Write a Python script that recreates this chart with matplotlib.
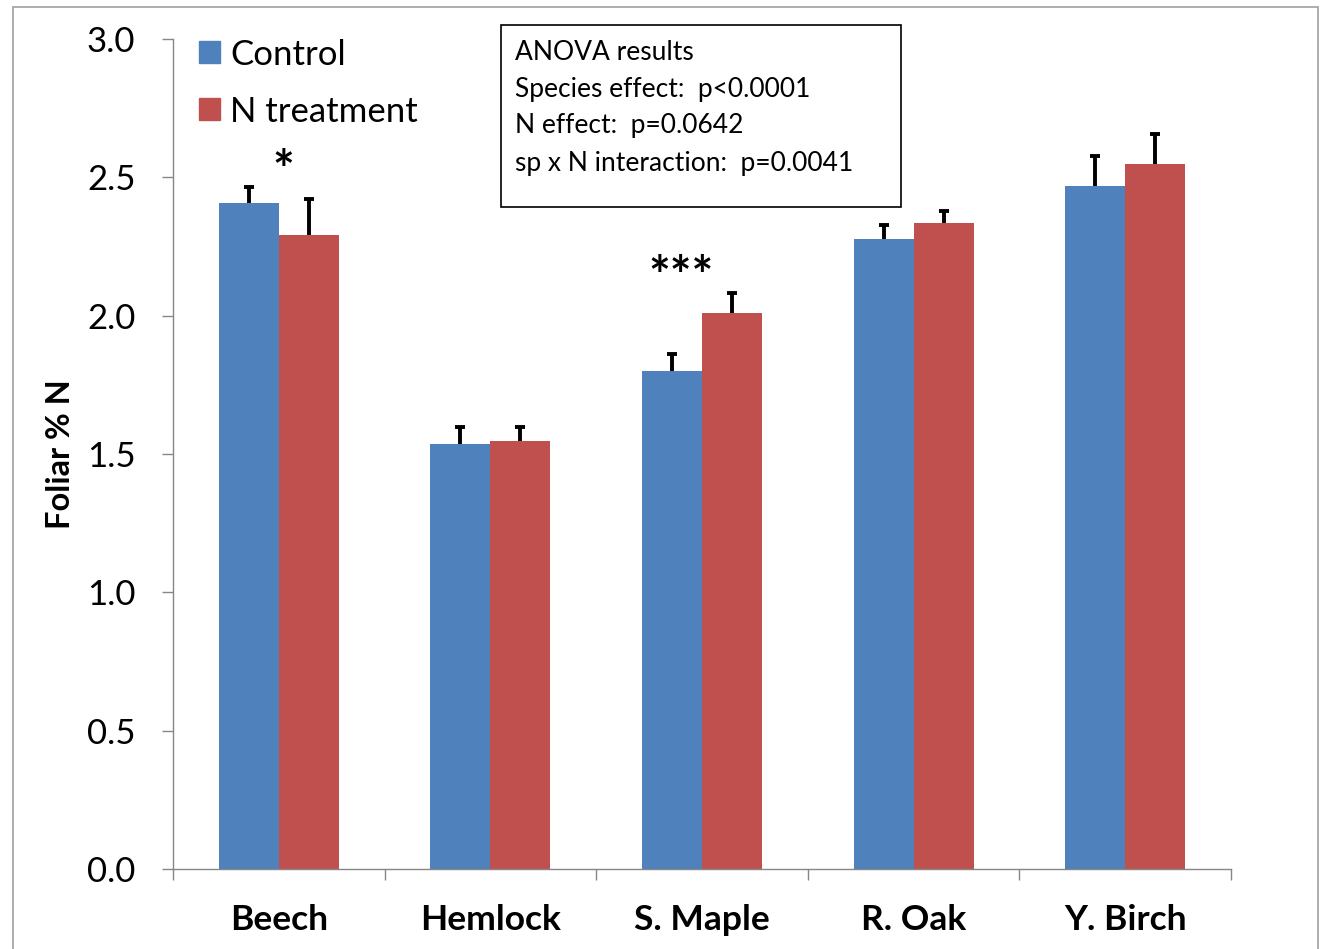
import numpy as np
import matplotlib
matplotlib.use("Agg")
import matplotlib.pyplot as plt
from matplotlib.patches import Rectangle, Patch

plt.rcParams['font.family'] = ['Lato', 'DejaVu Sans']

# data
species = ["Beech", "Hemlock", "S. Maple", "R. Oak", "Y. Birch"]
control = [2.407, 1.536, 1.800, 2.277, 2.468]
control_err = [0.058, 0.061, 0.061, 0.050, 0.108]
ntreat = [2.291, 1.547, 2.009, 2.335, 2.548]
ntreat_err = [0.130, 0.050, 0.072, 0.043, 0.108]
stars = {"Beech": "*", "S. Maple": "***"}
anova_lines = ["ANOVA results",
               "Species effect:  p<0.0001",
               "N effect:  p=0.0642",
               "sp x N interaction:  p=0.0041"]

blue = "#4F81BD"
red = "#C0504D"
gray = "#868686"

fig = plt.figure(figsize=(13.24, 9.49), dpi=100)
ax = fig.add_axes([173/1324, 1 - 869/949, 1058/1324, 830/949])

x = np.arange(len(species))
w = 0.284
ebar = dict(ecolor="black", elinewidth=2.8, capsize=3.5, capthick=2.8)
b1 = ax.bar(x - w/2, control, w, color=blue, label="Control",
            yerr=[np.zeros(len(control)), control_err], error_kw=ebar, zorder=2)
b2 = ax.bar(x + w/2, ntreat, w, color=red, label="N treatment",
            yerr=[np.zeros(len(ntreat)), ntreat_err], error_kw=ebar, zorder=2)
# only the upper half of each error bar is shown
for b in (b1, b2):
    b.errorbar.lines[1][0].set_visible(False)

ax.set_xlim(-0.5, len(species) - 0.5)
ax.set_ylim(0, 3.0)
ax.set_yticks(np.arange(0, 3.01, 0.5))
ax.set_yticklabels([f"{v:.1f}" for v in np.arange(0, 3.01, 0.5)], fontsize=25)
ax.tick_params(axis="y", length=8, width=1, color=gray, pad=19)

ax.set_xticks(np.arange(-0.5, len(species), 1.0))
ax.set_xticklabels([])
ax.set_xticks(x, minor=True)
ax.set_xticklabels(species, minor=True, fontsize=25.5, fontweight="bold")
ax.tick_params(axis="x", which="major", length=8, width=1, color=gray)
ax.tick_params(axis="x", which="minor", length=0, pad=25)

for s in ["top", "right"]:
    ax.spines[s].set_visible(False)
for s in ["left", "bottom"]:
    ax.spines[s].set_color(gray)
    ax.spines[s].set_linewidth(1)

ax.set_ylabel("Foliar % N", fontsize=23.5, fontweight="bold")
ax.yaxis.set_label_coords(-0.093, 0.5)

# significance stars
for name, mark in stars.items():
    i = species.index(name)
    top = max(control[i] + control_err[i], ntreat[i] + ntreat_err[i])
    ax.text(i + (0.02 if mark == "*" else -0.097), top - 0.035, mark,
            ha="center", va="bottom", fontsize=37, fontweight="bold")

handles = [Patch(color=blue), Patch(color=red)]
ax.legend(handles, ["Control", "N treatment"], loc="upper left",
          bbox_to_anchor=(-0.005, 1.038), frameon=False, fontsize=25,
          handlelength=0.6, handleheight=0.6, handletextpad=0.3,
          labelspacing=0.72)

# ANOVA box
fig.patches.append(Rectangle((501/1324, 1 - 207/949), 400/1324, 182/949,
                             transform=fig.transFigure, fill=False,
                             edgecolor="black", linewidth=1.2))
for k, line in enumerate(anova_lines):
    fig.text(515/1324, 1 - (52 + 37*k)/949, line, fontsize=19,
             ha="left", va="center")

# outer frame
fig.patches.append(Rectangle((13/1324, -0.02), 1305/1324, 1.02 - 7/949,
                             transform=fig.transFigure, fill=False,
                             edgecolor="#A0A0A0", linewidth=1.2))

fig.savefig("out.png", dpi=100)
